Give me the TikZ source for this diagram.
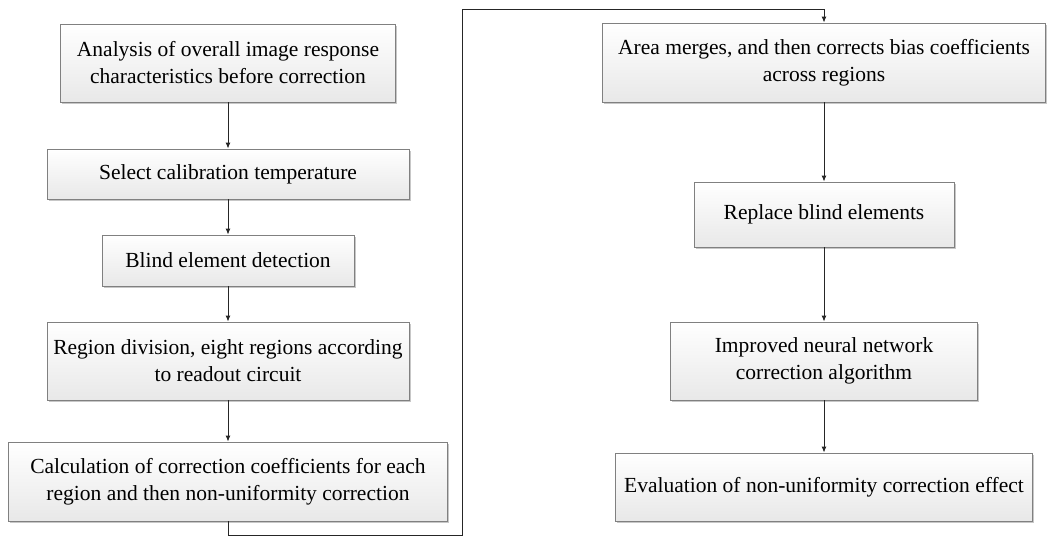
\documentclass[tikz,border=0pt]{standalone}
\usepackage{fontspec}
\setmainfont{Liberation Serif}
\usepackage{tikz}
\usetikzlibrary{arrows.meta,shadows}

\begin{document}
\begin{tikzpicture}[x=1pt, y=-1pt,
	every node/.style={rectangle, draw=black!50, line width=0.9pt, top color=white, bottom color=black!9, inner sep=0pt, align=center,
		font=\fontsize{21.5}{27}\selectfont, drop shadow={shadow xshift=1.8pt, shadow yshift=-1.8pt, fill=black!22, opacity=1}},
	every edge/.style={draw=black!85, line width=0.9pt, -{Latex[length=6pt,width=5pt]}}]
				\useasboundingbox (0,0) rectangle (1063,536);
				
				\node[minimum width=335, minimum height=78] (a) at (228,63){Analysis of overall image response\\characteristics before correction};
				\node[minimum width=362, minimum height=50] (b) at (228,174){Select calibration temperature};
				\node[minimum width=252, minimum height=51] (c) at (228,260.5){Blind element detection};
				\node[minimum width=362, minimum height=78] (d) at (228,361){Region division, eight regions according\\to readout circuit};
				\node[minimum width=439, minimum height=79] (e) at (228,481.5){Calculation of correction coefficients for each\\region and then non-uniformity correction};
				
				\node[minimum width=443, minimum height=79] (f) at (824,62.5){Area merges, and then corrects bias coefficients\\across regions};
				\node[minimum width=260, minimum height=65] (g) at (824,214.5){Replace blind elements};
				\node[minimum width=307, minimum height=78] (h) at (824,361){Improved neural network\\correction algorithm};
				\node[minimum width=417, minimum height=68] (i) at (824,487){Evaluation of non-uniformity correction effect};
				
				\coordinate (l1) at (462,535);
				\coordinate (l2) at (462,9);
				
				\path (a) edge (b);
				\path (b) edge (c);
				\path (c) edge (d);
				\path (d) edge (e);
				\draw[draw=black!85, line width=0.9pt, -{Latex[length=6pt,width=5pt]}] (e.south) |- (l1) |- (l2) -| (f.north);
				\path (f) edge (g);
				\path (g) edge (h);
				\path (h) edge (i);
				\end{tikzpicture}
\end{document}
